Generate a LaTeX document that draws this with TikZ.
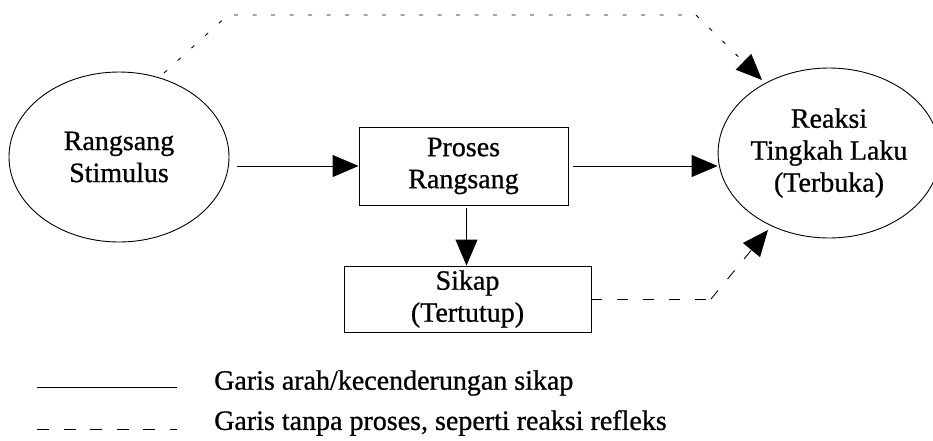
\documentclass[tikz,border=0pt]{standalone}
\usepackage{fontspec}
\setmainfont{Liberation Serif}
\newfontfamily\timesfont[FakeBold=0.8]{Liberation Serif}
\usetikzlibrary{arrows.meta,shapes.geometric}
\begin{document}
\begin{tikzpicture}[x=1pt,y=-1pt,
  txt/.style={font=\timesfont\fontsize{28}{32}\selectfont, align=center},
  ell/.style={draw, ellipse, line width=0.9pt, inner sep=0pt, txt},
  box/.style={draw, rectangle, line width=0.9pt, inner sep=0pt, txt},
  arr/.style={line width=0.9pt, -{Triangle[length=26pt,width=22pt]}},
  topdash/.style={line width=0.9pt, dash pattern=on 4pt off 14.5pt},
  lowdash/.style={line width=0.9pt, dash pattern=on 11pt off 15pt},
  legdash/.style={line width=0.9pt, dash pattern=on 12pt off 14.5pt},
  legtext/.style={font=\timesfont\fontsize{28}{32}\selectfont, anchor=west, inner sep=0pt}
]
\useasboundingbox (0,0) rectangle (933,440);

% nodes
\node[ell, minimum width=220pt, minimum height=170pt] (L) at (119,157) {Rangsang\\Stimulus};
\node[ell, minimum width=206pt, minimum height=170pt] (R) at (829,153) {Reaksi\\Tingkah Laku\\(Terbuka)};
\node[box, minimum width=209pt, minimum height=78pt] (P) at (463.5,166) {Proses\\Rangsang};
\node[box, minimum width=247pt, minimum height=66pt] (S) at (467.5,299) {Sikap\\(Tertutup)};

% solid arrows
\draw[arr] (P.west -| L.east) ++(8,0) -- (P.west);
\draw[arr] (P.east) ++(5,0) -- (P.east -| R.west);
\draw[arr] (P.south) ++(3,3) -- ([xshift=3pt]P.south |- S.north);

% dashed: Sikap -> Reaksi
\coordinate (d1) at (711,299);
\coordinate (d2) at (768,230);
\draw[lowdash] (S.east) -- (d1);
\draw[arr, lowdash] (d1) -- (d2);

% dashed top: Rangsang -> Reaksi
\coordinate (t0) at (164,73);
\coordinate (t1) at (228,15);
\coordinate (t2) at (696,15);
\coordinate (t3) at (762,80);
\draw[topdash] (t0) -- (t1) -- (t2);
\draw[arr, topdash] (t2) -- (t3);

% legend
\coordinate (l1a) at (37,387);
\coordinate (l1b) at (177,387);
\coordinate (l2a) at (37,429);
\coordinate (l2b) at (177,429);
\draw[line width=0.9pt] (l1a) -- (l1b);
\draw[legdash] (l2a) -- (l2b);
\node[legtext] (g1) at (214,383) {Garis arah/kecenderungan sikap};
\node[legtext] (g2) at (214,423) {Garis tanpa proses, seperti reaksi refleks};
\end{tikzpicture}
\end{document}
